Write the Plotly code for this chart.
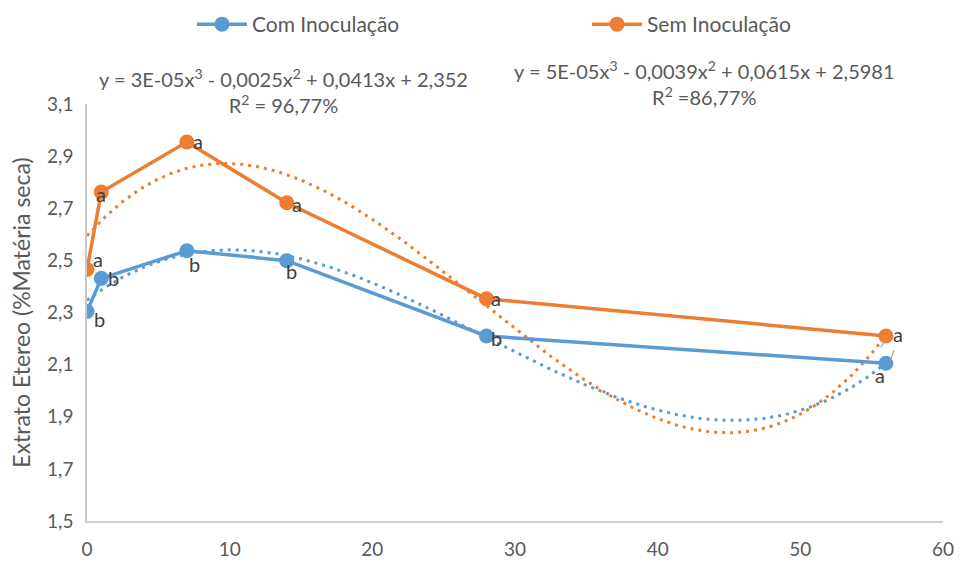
import numpy as np
import plotly.graph_objects as go

# Days of evaluation
dias = [0, 1, 7, 14, 28, 56]

# Ether extract (% dry matter)
com_inoculacao = [2.304, 2.431, 2.537, 2.499, 2.21, 2.105]
sem_inoculacao = [2.465, 2.762, 2.954, 2.721, 2.353, 2.21]

# Significance letters
letras_com = ["b", "b", "b", "b", "b", "a"]
letras_sem = ["a", "a", "a", "a", "a", "a"]

# Label offsets (pixels) for each letter
desloc_com = [(12, -8), (12, 0), (8, -13), (5, -10), (10, -2), (-6, -12)]
desloc_sem = [(11, 11), (0, -2), (11, 1), (10, -1), (10, 1), (12, 2)]

y_ticks = [1.5, 1.7, 1.9, 2.1, 2.3, 2.5, 2.7, 2.9, 3.1]
y_tick_text = ["1,5", "1,7", "1,9", "2,1", "2,3", "2,5", "2,7", "2,9", "3,1"]
x_ticks = [0, 10, 20, 30, 40, 50, 60]

eq_com = "y = 3E-05x<sup>3</sup> - 0,0025x<sup>2</sup> + 0,0413x + 2,352<br>R<sup>2</sup> = 96,77%"
eq_sem = "y = 5E-05x<sup>3</sup> - 0,0039x<sup>2</sup> + 0,0615x + 2,5981<br>R<sup>2</sup> =86,77%"

AZUL = "#5B9BD5"
LARANJA = "#ED7D31"
FONTE = "Lato, 'Open Sans', sans-serif"
CINZA = "#595959"

# Plot-area geometry in pixels
L, R, T, B = 87, 21, 104, 42
W, H = 966, 572
PW, PH = W - L - R, H - T - B


def px_x(px):
    return (px - L) / PW


def px_y(py):
    return (H - B - py) / PH


fig = go.Figure()

# Third-order polynomial trendlines fitted to each series
xs = np.linspace(0, 56, 300)
for serie, cor in [(com_inoculacao, AZUL), (sem_inoculacao, LARANJA)]:
    coef = np.polyfit(dias, serie, 3)
    fig.add_trace(go.Scatter(
        x=xs, y=np.polyval(coef, xs), mode="lines",
        line=dict(color=cor, width=3, dash="3px,5px"),
        showlegend=False, hoverinfo="skip"))

fig.add_trace(go.Scatter(
    x=dias, y=com_inoculacao, mode="lines+markers", name="Com Inoculação",
    line=dict(color=AZUL, width=3.5), marker=dict(size=15, color=AZUL),
    legend="legend"))
fig.add_trace(go.Scatter(
    x=dias, y=sem_inoculacao, mode="lines+markers", name="Sem Inoculação",
    line=dict(color=LARANJA, width=3.5), marker=dict(size=15, color=LARANJA),
    legend="legend2"))

anns = []
for xs_, ys_, ls_, ds_ in [(dias, com_inoculacao, letras_com, desloc_com),
                           (dias, sem_inoculacao, letras_sem, desloc_sem)]:
    for x, y, l, (dx, dy) in zip(xs_, ys_, ls_, ds_):
        anns.append(dict(x=x, y=y, text=l, showarrow=False, xshift=dx, yshift=dy,
                         font=dict(family=FONTE, size=20, color="#404040")))

# Short grey leader lines on the last pair of labels
for serie, (sx, sy, ax, ay) in [(sem_inoculacao, (0, -3, -6, 10)),
                                (com_inoculacao, (8, 13, -4, 12))]:
    anns.append(dict(x=dias[-1], y=serie[-1], text="", showarrow=True,
                     arrowhead=0, arrowwidth=1.3, arrowcolor="#A6A6A6",
                     xshift=sx, yshift=sy, ax=ax, ay=ay, standoff=0,
                     startstandoff=0))

# Trendline equations
anns.append(dict(xref="paper", yref="paper", x=px_x(284), y=px_y(62),
                 xanchor="center", yanchor="top", text=eq_com, showarrow=False,
                 font=dict(family=FONTE, size=20, color=CINZA)))
anns.append(dict(xref="paper", yref="paper", x=px_x(706), y=px_y(54),
                 xanchor="center", yanchor="top", text=eq_sem, showarrow=False,
                 font=dict(family=FONTE, size=20, color=CINZA)))

leg_common = dict(orientation="h", xref="container", yref="container",
                  xanchor="left", yanchor="top", itemwidth=50,
                  font=dict(family=FONTE, size=21, color=CINZA),
                  bgcolor="rgba(0,0,0,0)")

fig.update_layout(
    width=W, height=H,
    margin=dict(l=L, r=R, t=T, b=B),
    paper_bgcolor="white", plot_bgcolor="white",
    font=dict(family=FONTE, color=CINZA),
    annotations=anns,
    legend=dict(x=192 / W, y=1 - 4 / H, **leg_common),
    legend2=dict(x=587 / W, y=1 - 4 / H, **leg_common),
    xaxis=dict(range=[0, 60], tickvals=x_ticks, showgrid=False, zeroline=False,
               showline=True, linecolor="#D0D0D0", linewidth=1.5,
               tickfont=dict(family=FONTE, size=19, color=CINZA), ticks="",
               ticklabelstandoff=10),
    yaxis=dict(range=[1.5, 3.1], tickvals=y_ticks, ticktext=y_tick_text,
               showgrid=False, zeroline=False, showline=True,
               linecolor="#C8C8C8", linewidth=1.5, ticks="",
               ticklabelstandoff=8,
               tickfont=dict(family=FONTE, size=19, color=CINZA),
               title=dict(text="Extrato Etereo (%Matéria seca)", standoff=10,
                          font=dict(family=FONTE, size=23, color=CINZA))),
)

fig.write_html("out.html")
